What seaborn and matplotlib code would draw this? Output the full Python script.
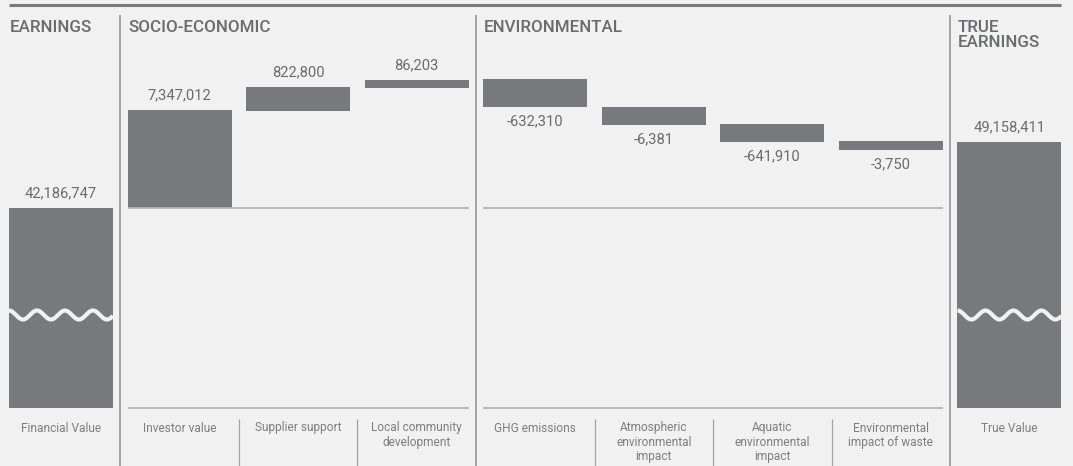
import numpy as np
import pandas as pd
import matplotlib
matplotlib.use("Agg")
import matplotlib.pyplot as plt
import seaborn as sns

# categories, left to right
items = ["Financial Value", "Investor value", "Supplier support",
         "Local community\ndevelopment", "GHG emissions",
         "Atmospheric\nenvironmental\nimpact", "Aquatic\nenvironmental\nimpact",
         "Environmental\nimpact of waste", "True Value"]
amounts = [42186747, 7347012, 822800, 86203, -632310, -6381, -641910, -3750, 49158411]

# the chart is not drawn to scale: bar levels
level_from = [0, 200, 297, 320, 329, 301, 284, 267, 0]
level_to = [200, 298, 321, 328, 301, 283, 266, 258, 266]
broken = ["Financial Value", "True Value"]

groups = ["EARNINGS", "SOCIO-ECONOMIC", "ENVIRONMENTAL", "TRUE\nEARNINGS"]
group_first = [0, 1, 4, 8]
group_last = [0, 3, 7, 8]

bg = "#f0f1f0"
bar_col = "#77797c"
text_col = "#6a6b6d"
label_col = "#7d7e80"

sns.set_style("white")
plt.rcParams["font.family"] = ["Liberation Sans Narrow", "Roboto", "DejaVu Sans"]

df = pd.DataFrame({"item": items, "height": np.array(level_to) - np.array(level_from)})

fig = plt.figure(figsize=(10.73, 4.66), dpi=100, facecolor=bg)
ax = fig.add_axes([0, 0, 1, 1])
ax.set_facecolor(bg)

bw = 0.877
sns.barplot(data=df, x="item", y="height", order=items, bottom=level_from,
            color=bar_col, saturation=1, width=bw, errorbar=None,
            linewidth=0, ax=ax)

ax.set_xlim(-0.5145, 8.5357)
ax.set_ylim(-58, 408)
ax.axis("off")
hw = bw / 2

# top rule
ax.hlines(403, -hw, len(items) - 1 + hw, color="#7a7a7a", lw=2.2)

# group dividers and headers
for k, (name, a, b) in enumerate(zip(groups, group_first, group_last)):
    if k > 0:
        ax.vlines(a - 0.5, -58, 393, color="#8c8c8c", lw=1.1)
    ax.text(a - hw + 0.005, 388.5, name, ha="left", va="top", fontsize=12.2,
            fontweight="medium", color=text_col, linespacing=1.08)
    if b > a:
        ax.hlines([0, 200], a - hw, b + hw, color="#b4b5b5", lw=1.3)
        for s in range(a, b):
            ax.vlines(s + 0.5, -58, -11, color="#a3a4a5", lw=0.9)

# value labels
for i, (v, f, t) in enumerate(zip(amounts, level_from, level_to)):
    up = t >= f
    ax.annotate(f"{v:,}", xy=(i, t), xytext=(0, 10.5 if up else -10),
                textcoords="offset points", ha="center", va="center",
                fontsize=10.6, color=text_col)

# category labels
for i, name in enumerate(items):
    ax.text(i, -13.5, name, ha="center", va="top", fontsize=8.6,
            color=label_col, linespacing=1.12)

# break marks on the tall bars
for name in broken:
    i = items.index(name)
    xs = np.linspace(i - hw, i + hw, 300)
    ys = 93 + 4.5 * np.cos(2 * np.pi * (xs - (i - hw)) / 0.236)
    ax.plot(xs, ys, color=bg, lw=3.0, solid_capstyle="butt")

fig.savefig("out.png", dpi=100, facecolor=bg)
